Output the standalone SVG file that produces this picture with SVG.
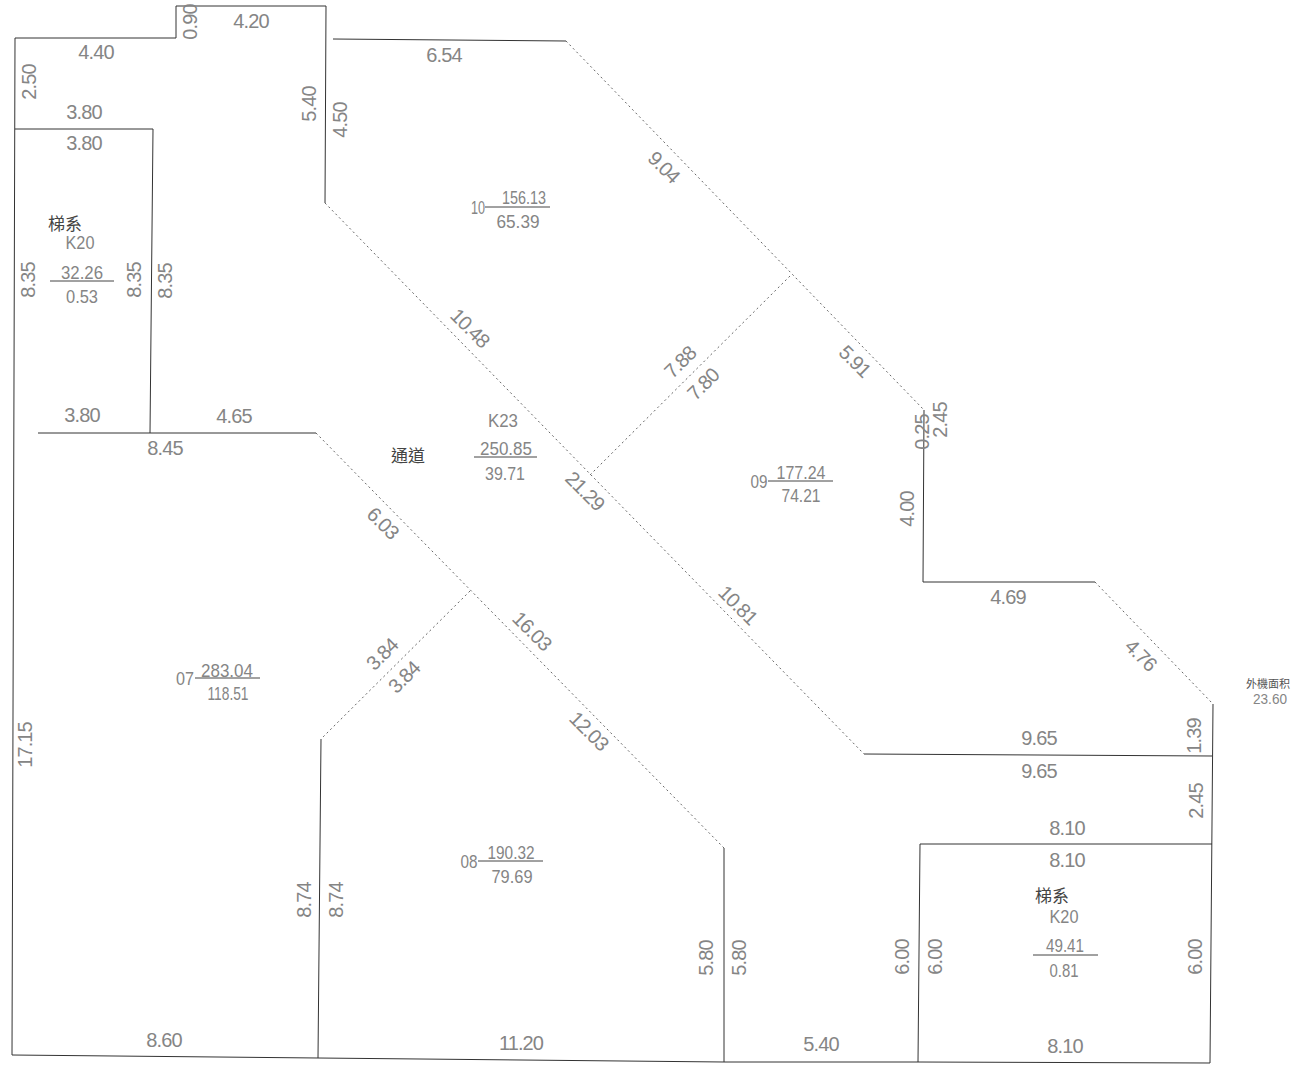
<svg xmlns="http://www.w3.org/2000/svg" width="1306" height="1065" viewBox="0 0 1306 1065">
<style>
text{font-family:"Liberation Sans","Noto Sans CJK TC",sans-serif;font-size:20px;letter-spacing:-.9px;fill:#858585;text-anchor:middle;dominant-baseline:central}
.s{font-size:19px;letter-spacing:0}
.c{font-size:17px;letter-spacing:0;fill:#444}
.x{font-size:11px;letter-spacing:0;fill:#555}
.l{fill:none;stroke:#333;stroke-width:1}
.d{fill:none;stroke:#666;stroke-width:1;stroke-dasharray:2 3}
.f{fill:none;stroke:#444;stroke-width:1}
</style>
<rect width="1306" height="1065" fill="#fff"/>
<g id="connectors">
<path class="l" d="M15 38H176V6H326L325 203"/>
<path class="l" d="M15 38L12 1055L318 1058L724 1062L918 1062L1210 1063L1213 704"/>
<path class="l" d="M15 129H153L150 433"/>
<path class="l" d="M38 433L316 433"/>
<path class="d" d="M316 433L724 848"/>
<path class="l" d="M724 848V1062"/>
<path class="d" d="M325 203L864 754"/>
<path class="l" d="M864 754L1212 756"/>
<path class="l" d="M333 39L566 41"/>
<path class="d" d="M566 41L924 410"/>
<path class="l" d="M924 410L923 582H1095"/>
<path class="d" d="M1095 582L1213 704"/>
<path class="d" d="M470 591L321 739"/>
<path class="l" d="M321 739L318 1058"/>
<path class="d" d="M790 276L590 475"/>
<path class="l" d="M1212 844H920L918 1062"/>
</g>
<g id="stair-left">
<text x="65" y="224" class="c">梯系</text><text x="80" y="242" class="s" textLength="29" lengthAdjust="spacingAndGlyphs">K20</text>
<text x="82" y="272" class="s" textLength="42" lengthAdjust="spacingAndGlyphs">32.26</text><path class="f" d="M50 281H114"/><text x="82" y="296" class="s" textLength="32" lengthAdjust="spacingAndGlyphs">0.53</text>
</g>
<g id="unit-10">
<text x="478" y="207" class="s" textLength="14" lengthAdjust="spacingAndGlyphs">10</text><text x="524" y="197" class="s" textLength="44" lengthAdjust="spacingAndGlyphs">156.13</text><path class="f" d="M485 207H550"/><text x="518" y="221" class="s" textLength="43" lengthAdjust="spacingAndGlyphs">65.39</text>
</g>
<g id="corridor">
<text x="408" y="456" class="c">通道</text><text x="503" y="420" class="s" textLength="30" lengthAdjust="spacingAndGlyphs">K23</text>
<text x="506" y="448" class="s" textLength="52" lengthAdjust="spacingAndGlyphs">250.85</text><path class="f" d="M474 457H537"/><text x="505" y="473" class="s" textLength="40" lengthAdjust="spacingAndGlyphs">39.71</text>
</g>
<g id="unit-09">
<text x="759" y="481" class="s" textLength="17" lengthAdjust="spacingAndGlyphs">09</text><text x="801" y="472" class="s" textLength="49" lengthAdjust="spacingAndGlyphs">177.24</text><path class="f" d="M768 481H833"/><text x="801" y="495" class="s" textLength="39" lengthAdjust="spacingAndGlyphs">74.21</text>
</g>
<g id="unit-07">
<text x="185" y="678" class="s" textLength="18" lengthAdjust="spacingAndGlyphs">07</text><text x="227" y="670" class="s" textLength="52" lengthAdjust="spacingAndGlyphs">283.04</text><path class="f" d="M195 678H260"/><text x="228" y="693" class="s" textLength="41" lengthAdjust="spacingAndGlyphs">118.51</text>
</g>
<g id="unit-08">
<text x="469" y="861" class="s" textLength="17" lengthAdjust="spacingAndGlyphs">08</text><text x="511" y="852" class="s" textLength="47" lengthAdjust="spacingAndGlyphs">190.32</text><path class="f" d="M478 861H543"/><text x="512" y="876" class="s" textLength="41" lengthAdjust="spacingAndGlyphs">79.69</text>
</g>
<g id="stair-right">
<text x="1052" y="896" class="c">梯系</text><text x="1064" y="916" class="s" textLength="29" lengthAdjust="spacingAndGlyphs">K20</text>
<text x="1065" y="945" class="s" textLength="38" lengthAdjust="spacingAndGlyphs">49.41</text><path class="f" d="M1033 955H1098"/><text x="1064" y="970" class="s" textLength="29" lengthAdjust="spacingAndGlyphs">0.81</text>
</g>
<g id="exterior-area">
<text x="1268" y="684" class="x">外機面积</text><text x="1270" y="698" class="s" style="font-size:15px" textLength="34" lengthAdjust="spacingAndGlyphs">23.60</text>
</g>
<g id="dimensions">
<text x="96" y="52">4.40</text><text x="251" y="21">4.20</text><text x="84" y="112">3.80</text><text x="84" y="143">3.80</text>
<text x="82" y="415">3.80</text><text x="234" y="416">4.65</text><text x="165" y="448">8.45</text><text x="444" y="55">6.54</text>
<text x="1008" y="597">4.69</text><text x="1039" y="738">9.65</text><text x="1039" y="771">9.65</text><text x="1067" y="828">8.10</text><text x="1067" y="860">8.10</text><text x="1065" y="1046">8.10</text>
<text x="164" y="1040">8.60</text><text x="521" y="1043">11.20</text><text x="821" y="1044">5.40</text>
<text transform="translate(190 22) rotate(-90)">0.90</text><text transform="translate(29 82) rotate(-90)">2.50</text><text transform="translate(309 104) rotate(-90)">5.40</text><text transform="translate(340 120) rotate(-90)">4.50</text>
<text transform="translate(28 280) rotate(-90)">8.35</text><text transform="translate(134 280) rotate(-90)">8.35</text><text transform="translate(165 281) rotate(-90)">8.35</text>
<text transform="translate(922 432) rotate(-90)">0.25</text><text transform="translate(940 420) rotate(-90)">2.45</text><text transform="translate(907 509) rotate(-90)">4.00</text>
<text transform="translate(25 745) rotate(-90)">17.15</text><text transform="translate(304 900) rotate(-90)">8.74</text><text transform="translate(336 900) rotate(-90)">8.74</text>
<text transform="translate(706 958) rotate(-90)">5.80</text><text transform="translate(739 958) rotate(-90)">5.80</text><text transform="translate(902 957) rotate(-90)">6.00</text><text transform="translate(935 957) rotate(-90)">6.00</text><text transform="translate(1195 957) rotate(-90)">6.00</text>
<text transform="translate(1194 736) rotate(-90)">1.39</text><text transform="translate(1196 801) rotate(-90)">2.45</text>
<text transform="translate(664 167) rotate(45)">9.04</text><text transform="translate(470 328) rotate(45)">10.48</text><text transform="translate(855 361) rotate(45)">5.91</text><text transform="translate(585 491) rotate(45)">21.29</text><text transform="translate(738 605) rotate(45)">10.81</text><text transform="translate(383 523) rotate(45)">6.03</text><text transform="translate(532 631) rotate(45)">16.03</text><text transform="translate(589 731) rotate(45)">12.03</text><text transform="translate(1141 655) rotate(45)">4.76</text>
<text transform="translate(680 362) rotate(-45)">7.88</text><text transform="translate(703 384) rotate(-45)">7.80</text><text transform="translate(382 654) rotate(-45)">3.84</text><text transform="translate(404 677) rotate(-45)">3.84</text>
</g>
</svg>
